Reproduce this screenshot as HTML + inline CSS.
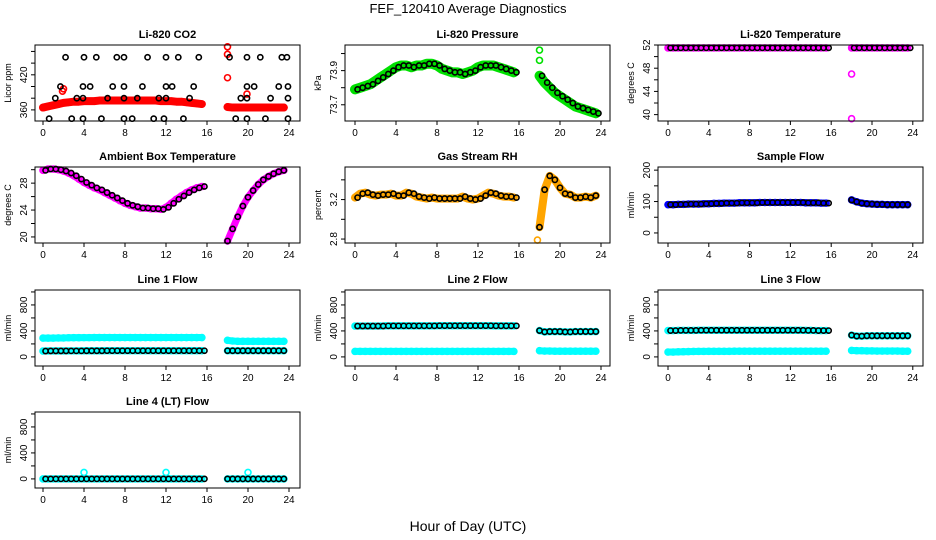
<!DOCTYPE html>
<html><head><meta charset="utf-8"><style>
body{margin:0;background:#fff;}
svg{display:block;font-family:"Liberation Sans",sans-serif;}
</style></head><body>
<svg id="c" width="936" height="540" viewBox="0 0 936 540">
<text x="468" y="13" text-anchor="middle" font-size="13">FEF_120410  Average Diagnostics</text>
<text x="468" y="531" text-anchor="middle" font-size="14">Hour of Day (UTC)</text>
</svg>
<script>
// ---- data ----
const hoursA = [0,0.5,1,1.5,2,2.5,3,3.5,4,4.5,5,5.5,6,6.5,7,7.5,8,8.5,9,9.5,10,10.5,11,11.5,12,12.5,13,13.5,14,14.5,15,15.5];
const hoursB = [18,18.5,19,19.5,20,20.5,21,21.5,22,22.5,23,23.5];
const xTicks = [0,4,8,12,16,20,24];

const co2A = [364,366,368,370,372,373,374,374,375,375,375,376,376,376,376,376,376,376,376,376,376,376,376,375,375,375,374,374,373,372,371,370];
const co2B = [365,364,364,364,364,364,364,364,364,364,364,364];
const co2BlackH = [2.2,4.0,5.2,7.2,7.9,10.2,12.0,13.2,15.2,18.2,19.9,21.2,23.3,23.8, 1.7,3.9,4.6,6.8,7.9,9.7,12,12.6,14.7,19.9,20.6,23.0,23.9, 1.2,3.3,3.9,6.3,7.9,9.2,11.3,12,14.3,19.3,19.9,22.2,23.9, 0.6,2.8,3.9,5.7,7.9,8.7,10.8,11.8,13.7,18.8,19.9,21.7,23.9];
const co2BlackV = [450,450,450,450,450,450,450,450,450,450,450,450,450,450, 400,400,400,400,400,400,400,400,400,400,400,400,400, 380,380,380,380,380,380,380,380,380,380,380,380,380, 345,345,345,345,345,345,345,345,345,345,345,345,345];
const co2OutH = [18.0,18.0,18.0,1.9,2.0,19.9];
const co2OutV = [468,455,415,392,396,387];

const presA = [73.79,73.80,73.81,73.82,73.84,73.86,73.88,73.90,73.92,73.93,73.93,73.92,73.93,73.93,73.94,73.94,73.93,73.91,73.90,73.89,73.89,73.88,73.89,73.90,73.92,73.93,73.93,73.93,73.92,73.91,73.90,73.89];
const presB = [73.87,73.83,73.80,73.77,73.75,73.73,73.71,73.69,73.68,73.67,73.66,73.65];
const presOutH = [18,18];
const presOutV = [74.02,73.96];

const tempA = [51.5,51.5,51.5,51.5,51.5,51.5,51.5,51.5,51.5,51.5,51.5,51.5,51.5,51.5,51.5,51.5,51.5,51.5,51.5,51.5,51.5,51.5,51.5,51.5,51.5,51.5,51.5,51.5,51.5,51.5,51.5,51.5];
const tempB = [51.5,51.5,51.5,51.5,51.5,51.5,51.5,51.5,51.5,51.5,51.5,51.5];
const tempOutH = [18,18];
const tempOutV = [47,39.3];

const ambA = [29.9,30.1,30.1,30.0,29.8,29.5,29.1,28.6,28.1,27.7,27.3,27.0,26.6,26.2,25.8,25.4,25.0,24.7,24.5,24.3,24.3,24.2,24.2,24.1,24.4,25.0,25.6,26.1,26.6,27.0,27.3,27.5];
const ambB = [19.4,21.2,23.0,24.6,25.9,26.9,27.8,28.5,29.0,29.4,29.7,29.9];

const rhA = [3.22,3.26,3.27,3.25,3.24,3.25,3.25,3.26,3.24,3.24,3.27,3.26,3.23,3.22,3.21,3.22,3.21,3.21,3.21,3.21,3.21,3.23,3.21,3.20,3.21,3.24,3.27,3.26,3.24,3.23,3.23,3.22];
const rhB = [2.92,3.30,3.44,3.40,3.32,3.26,3.25,3.22,3.22,3.23,3.22,3.24];
const rhOutH = [17.8];
const rhOutV = [2.79];

const sampA = [90,90,91,91,92,92,92,93,93,94,94,95,95,95,96,96,96,96,97,97,97,97,97,97,97,97,97,96,96,96,95,95];
const sampB = [105,99,95,93,92,91,91,90,90,90,90,90];

const l1TopA = [290,290,290,292,292,295,296,296,297,297,298,298,298,298,298,298,298,298,298,298,298,298,298,298,298,298,298,298,298,298,298,298];
const l1TopB = [255,245,240,240,240,240,240,240,240,240,240,240];
const l1BotA = [90,92,92,92,92,93,93,93,94,94,94,94,95,95,95,95,95,95,95,95,95,95,95,95,95,95,95,95,95,95,95,95];
const l1BotB = [95,95,95,95,95,95,95,95,95,95,95,95];

const l2TopA = [475,475,475,475,475,475,478,478,478,478,478,478,478,478,478,478,480,480,480,480,480,480,480,480,480,480,480,478,478,478,478,478];
const l2TopB = [405,385,390,390,390,385,385,390,390,390,390,390];
const l2BotA = [85,85,85,85,85,85,85,85,85,85,85,85,85,85,85,85,85,85,85,85,85,85,85,85,85,85,85,85,85,85,85,85];
const l2BotB = [95,90,90,88,88,88,88,88,88,88,88,88];

const l3TopA = [405,405,408,408,408,408,410,410,410,410,410,410,410,410,410,410,410,410,410,410,410,410,410,410,410,410,410,408,408,405,405,405];
const l3TopB = [335,320,320,325,325,325,325,325,325,325,325,325];
const l3BotA = [75,75,78,80,82,84,85,85,86,86,86,86,86,88,88,88,88,88,88,88,88,88,88,88,88,88,88,88,88,88,88,88];
const l3BotB = [100,95,95,92,92,90,90,90,90,90,88,88];

const l4A = [0,0,0,0,0,0,0,0,0,0,0,0,0,0,0,0,0,0,0,0,0,0,0,0,0,0,0,0,0,0,0,0];
const l4B = [0,0,0,0,0,0,0,0,0,0,0,0];
const l4OutH = [4,12,20];
const l4OutV = [100,100,100];

// ---- layout ----
const NS = 'http://www.w3.org/2000/svg';
const svg = document.getElementById('c');
const colLeft = [35,345,658], colX0 = [43,355,668], colPxH = [10.25,10.25,10.2];
const rowTop = [45,167,290,412], boxW = 265, boxH = 76;

function mk(tag, attrs, parent){
  const e = document.createElementNS(NS, tag);
  for (const k in attrs) e.setAttribute(k, attrs[k]);
  (parent||svg).appendChild(e);
  return e;
}

const panels = [
 {t:'Li-820 CO2', yl:'Licor ppm', r:0,c:0, top:471, bot:341, ticks:[360,380,400,420,440,460], labs:[360,420], name:'co2', bw:8,
  series:[{h:hoursA,v:co2A,col:'#ff0000',band:1},{h:hoursB,v:co2B,col:'#ff0000',band:1},{h:co2OutH,v:co2OutV,col:'#ff0000'},{h:co2BlackH,v:co2BlackV,col:'#000'}]},
 {t:'Li-820 Pressure', yl:'kPa', r:0,c:1, top:74.05, bot:73.605, ticks:[73.7,73.8,73.9,74.0], labs:[73.7,73.9], name:'pressure', bw:10,
  series:[{h:hoursA,v:presA,col:'#00e000',band:1},{h:hoursB,v:presB,col:'#00e000',band:1},{h:presOutH,v:presOutV,col:'#00e000'},{h:hoursA,v:presA,col:'#000',off:0.25},{h:hoursB,v:presB,col:'#000',off:0.25}]},
 {t:'Li-820 Temperature', yl:'degrees C', r:0,c:2, top:52.0, bot:38.9, ticks:[40,42,44,46,48,50,52], labs:[40,44,48,52], name:'temperature',
  series:[{h:hoursA,v:tempA,col:'#ff00ff',band:1},{h:hoursB,v:tempB,col:'#ff00ff',band:1},{h:tempOutH,v:tempOutV,col:'#ff00ff'},{h:hoursA,v:tempA,col:'#000',off:0.25},{h:hoursB,v:tempB,col:'#000',off:0.25}]},
 {t:'Ambient Box Temperature', yl:'degrees C', r:1,c:0, top:30.4, bot:19.1, ticks:[20,22,24,26,28,30], labs:[20,24,28], name:'ambient',
  series:[{h:hoursA,v:ambA,col:'#ff00ff',band:1},{h:hoursB,v:ambB,col:'#ff00ff',band:1},{h:hoursA,v:ambA,col:'#000',off:0.25},{h:hoursB,v:ambB,col:'#000',off:0}]},
 {t:'Gas Stream RH', yl:'percent', r:1,c:1, top:3.53, bot:2.76, ticks:[2.8,3.0,3.2,3.4], labs:[2.8,3.2], name:'rh', bw:8,
  series:[{h:hoursA,v:rhA,col:'#ffa500',band:1},{h:hoursB,v:rhB,col:'#ffa500',band:1},{h:rhOutH,v:rhOutV,col:'#ffa500'},{h:hoursA,v:rhA,col:'#000',off:0.25},{h:hoursB,v:rhB,col:'#000',off:0}]},
 {t:'Sample Flow', yl:'ml/min', r:1,c:2, top:210, bot:-32, ticks:[0,50,100,150,200], labs:[0,100,200], name:'sample-flow',
  series:[{h:hoursA,v:sampA,col:'#0000ff',band:1},{h:hoursB,v:sampB,col:'#0000ff',band:1},{h:hoursA,v:sampA,col:'#000',off:0.25},{h:hoursB,v:sampB,col:'#000',off:0}]},
 {t:'Line 1 Flow', yl:'ml/min', r:2,c:0, top:1030, bot:-140, ticks:[0,200,400,600,800,1000], labs:[0,400,800], name:'line1',
  series:[{h:hoursA,v:l1TopA,col:'#00ffff',band:1},{h:hoursB,v:l1TopB,col:'#00ffff',band:1},{h:hoursA,v:l1BotA,col:'#00ffff',band:1},{h:hoursB,v:l1BotB,col:'#00ffff',band:1},{h:hoursA,v:l1BotA,col:'#000',off:0.25},{h:hoursB,v:l1BotB,col:'#000',off:0}]},
 {t:'Line 2 Flow', yl:'ml/min', r:2,c:1, top:1030, bot:-140, ticks:[0,200,400,600,800,1000], labs:[0,400,800], name:'line2',
  series:[{h:hoursA,v:l2TopA,col:'#00ffff',band:1},{h:hoursB,v:l2TopB,col:'#00ffff',band:1},{h:hoursA,v:l2BotA,col:'#00ffff',band:1},{h:hoursB,v:l2BotB,col:'#00ffff',band:1},{h:hoursA,v:l2TopA,col:'#000',off:0.25},{h:hoursB,v:l2TopB,col:'#000',off:0}]},
 {t:'Line 3 Flow', yl:'ml/min', r:2,c:2, top:1030, bot:-140, ticks:[0,200,400,600,800,1000], labs:[0,400,800], name:'line3',
  series:[{h:hoursA,v:l3TopA,col:'#00ffff',band:1},{h:hoursB,v:l3TopB,col:'#00ffff',band:1},{h:hoursA,v:l3BotA,col:'#00ffff',band:1},{h:hoursB,v:l3BotB,col:'#00ffff',band:1},{h:hoursA,v:l3TopA,col:'#000',off:0.25},{h:hoursB,v:l3TopB,col:'#000',off:0}]},
 {t:'Line 4 (LT) Flow', yl:'ml/min', r:3,c:0, top:1030, bot:-140, ticks:[0,200,400,600,800,1000], labs:[0,400,800], name:'line4',
  series:[{h:hoursA,v:l4A,col:'#00ffff',band:1},{h:hoursB,v:l4B,col:'#00ffff',band:1},{h:l4OutH,v:l4OutV,col:'#00ffff'},{h:hoursA,v:l4A,col:'#000',off:0.25},{h:hoursB,v:l4B,col:'#000',off:0}]}
];

panels.forEach(p=>{
  const L = colLeft[p.c], T = rowTop[p.r], x0 = colX0[p.c], k = colPxH[p.c];
  const xs = h => x0 + h*k;
  const ys = v => T + (p.top - v)/(p.top - p.bot)*boxH;
  const g = mk('g',{});
  
  
  const tt = mk('text',{x:L+boxW/2, y:T-7, 'text-anchor':'middle','font-size':11,'font-weight':'bold'},g);
  tt.textContent = p.t;
  
  
  const yl = mk('text',{x:0,y:0,'text-anchor':'middle','font-size':9,transform:`translate(${L-24},${T+boxH/2}) rotate(-90)`},g);
  yl.textContent = p.yl;
  
  
  const clipG = mk('g',{},g);
  p.series.forEach(s=>{
    const off = s.off||0;
    if (s.band){
      const pts = s.h.map((h,i)=>xs(h)+','+ys(s.v[i])).join(' ');
      const pl = mk('polyline',{points:pts,fill:'none',stroke:s.col,'stroke-width':p.bw||7,'stroke-linecap':'round','stroke-linejoin':'round'},clipG);
      
      
    }
    s.h.forEach((h,i)=>{
      let hx = h;
      if (s.col==='#000' && off){ hx = h + off; if (h < 16) hx = Math.min(hx, 15.75); else hx = Math.min(hx, 23.9); }
      const c = mk('circle',{cx:xs(hx),cy:ys(s.v[i]),r:s.col==='#000'?2.6:3,fill:'none',stroke:s.col,'stroke-width':1.6},clipG);
      
      
    });
  });
  const b = mk('rect',{x:L,y:T,width:boxW,height:boxH,fill:'none',stroke:'#000','stroke-width':1},g);
  
  
  xTicks.forEach(t=>{
    mk('line',{x1:xs(t),x2:xs(t),y1:T+boxH,y2:T+boxH+4,stroke:'#000'},g);
    const tx = mk('text',{x:xs(t),y:T+boxH+15,'text-anchor':'middle','font-size':10},g);
    tx.textContent = t;
    
    
  });
  p.ticks.forEach(t=>{
    mk('line',{x1:L-4,x2:L,y1:ys(t),y2:ys(t),stroke:'#000'},g);
  });
  p.labs.forEach(t=>{
    const ty = mk('text',{x:0,y:0,'text-anchor':'middle','font-size':10,transform:`translate(${L-8},${ys(t)}) rotate(-90)`},g);
    ty.textContent = t;
    
    
  });
});
</script>
</body></html>
